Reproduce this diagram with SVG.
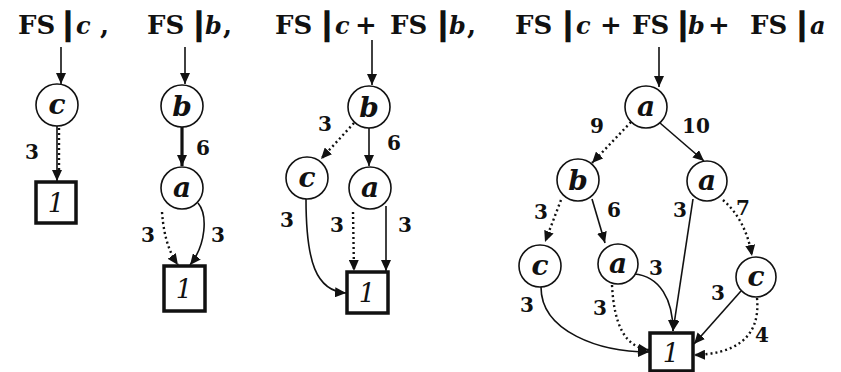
<svg xmlns="http://www.w3.org/2000/svg" width="841" height="372" viewBox="0 0 841 372">
<style>
.t{font-family:"DejaVu Serif","Liberation Serif",serif;font-weight:bold;font-size:26px;fill:#111}
.v{font-style:italic;font-size:24px}
.m{text-anchor:middle}
.bar{font-family:"DejaVu Sans","Liberation Sans",sans-serif;font-weight:bold;font-size:30px;fill:#111;stroke:#111;stroke-width:1.6;text-anchor:middle}
.n circle{fill:#fff;stroke:#111;stroke-width:1.6}
.n rect{fill:#fff;stroke:#111;stroke-width:3.5}
.nl{font-family:"DejaVu Serif","Liberation Serif",serif;font-weight:bold;font-style:italic;font-size:28px;fill:#111;text-anchor:middle}
.one{font-family:"DejaVu Serif","Liberation Serif",serif;font-style:italic;font-size:26px;fill:#111;text-anchor:middle}
.el{font-family:"DejaVu Serif","Liberation Serif",serif;font-weight:bold;font-size:20px;fill:#111;text-anchor:middle}
.s{fill:none;stroke:#111;stroke-width:1.6;marker-end:url(#ah)}
.d{fill:none;stroke:#111;stroke-width:2.4;stroke-dasharray:2 3;marker-end:url(#ah)}
.k{fill:none;stroke:#111;stroke-width:3.2;marker-end:url(#ah)}
</style>
<defs>
<marker id="ah" markerUnits="userSpaceOnUse" markerWidth="11" markerHeight="10" refX="11" refY="5" orient="auto">
<path d="M0,0 L11,5 L0,10 z" fill="#111"/>
</marker>
</defs>
<rect width="841" height="372" fill="#fff"/>
<g id="title-1">
<text class="t" x="18" y="34">FS</text><text class="bar" x="68" y="34">|</text><text class="t v" x="76" y="34">c</text><text class="t" x="100" y="34">,</text>
</g>
<g id="title-2">
<text class="t" x="147" y="34">FS</text><text class="bar" x="199" y="34">|</text><text class="t v" x="205" y="34">b</text><text class="t" x="223" y="34">,</text>
</g>
<g id="title-3">
<text class="t" x="275" y="34">FS</text><text class="bar" x="327" y="34">|</text><text class="t v" x="335" y="34">c</text><text class="t m" x="366" y="34">+</text><text class="t" x="390" y="34">FS</text><text class="bar" x="443" y="34">|</text><text class="t v" x="449" y="34">b</text><text class="t" x="467" y="34">,</text>
</g>
<g id="title-4">
<text class="t" x="515" y="34">FS</text><text class="bar" x="568" y="34">|</text><text class="t v" x="576" y="34">c</text><text class="t m" x="611" y="34">+</text><text class="t" x="632" y="34">FS</text><text class="bar" x="683" y="34">|</text><text class="t v" x="688" y="34">b</text><text class="t m" x="719" y="34">+</text><text class="t" x="750" y="34">FS</text><text class="bar" x="802" y="34">|</text><text class="t v" x="810" y="34">a</text>
</g>
<g id="connectors">
<!-- panel 1 -->
<path class="s" d="M61,47 L61,84"/>
<path class="s" d="M57,126 L57,181"/>
<path class="d" d="M59,128 L59,170" style="marker-end:none"/>
<!-- panel 2 -->
<path class="s" d="M185,47 L185,84"/>
<path class="k" d="M182,127 L182,166"/>
<path class="d" d="M162,212 C164,240 171,255 178,265"/>
<path class="s" d="M198,203 C208,215 206,245 190,265"/>
<!-- panel 3 -->
<path class="s" d="M372,40 L372,85"/>
<path class="d" d="M354,123 L321,159"/>
<path class="s" d="M369,128 L369,166"/>
<path class="s" d="M306,199 C306,262 316,291 346,293"/>
<path class="d" d="M353,212 L354,271"/>
<path class="s" d="M386,206 L386,271"/>
<!-- panel 4 -->
<path class="s" d="M659,47 L659,87"/>
<path class="d" d="M631,122 L592,163"/>
<path class="s" d="M660,123 L704,161"/>
<path class="d" d="M561,200 L545,242"/>
<path class="s" d="M592,199 L605,243"/>
<path class="s" d="M693,199 L673,331"/>
<path class="d" d="M723,200 Q746,220 752,256"/>
<path class="s" d="M541,287 C541,332 600,352 649,352"/>
<path class="d" d="M612,285 C614,325 625,347 649,350"/>
<path class="s" d="M634,274 C660,276 673,300 673,331"/>
<path class="s" d="M741,291 L694,344"/>
<path class="d" d="M757,298 C761,340 732,354 694,355"/>
</g>
<g id="edge-labels">
<text class="el" x="32" y="159">3</text>
<text class="el" x="203" y="155">6</text>
<text class="el" x="148" y="242">3</text>
<text class="el" x="218" y="242">3</text>
<text class="el" x="325" y="131">3</text>
<text class="el" x="394" y="150">6</text>
<text class="el" x="287" y="227">3</text>
<text class="el" x="337" y="232">3</text>
<text class="el" x="405" y="232">3</text>
<text class="el" x="597" y="133">9</text>
<text class="el" x="696" y="133">10</text>
<text class="el" x="541" y="219">3</text>
<text class="el" x="614" y="217">6</text>
<text class="el" x="680" y="217">3</text>
<text class="el" x="743" y="215">7</text>
<text class="el" x="656" y="275">3</text>
<text class="el" x="527" y="312">3</text>
<text class="el" x="600" y="315">3</text>
<text class="el" x="718" y="300">3</text>
<text class="el" x="762" y="342">4</text>
</g>
<g id="p1-c" class="n"><circle cx="57" cy="105" r="21"/><text class="nl" x="57" y="114">c</text></g>
<g id="p1-1" class="n"><rect x="36" y="182" width="40" height="41"/><text class="one" x="56" y="212">1</text></g>
<g id="p2-b" class="n"><circle cx="182" cy="106" r="21"/><text class="nl" x="182" y="116">b</text></g>
<g id="p2-a" class="n"><circle cx="182" cy="188" r="21"/><text class="nl" x="182" y="197">a</text></g>
<g id="p2-1" class="n"><rect x="164" y="266" width="41" height="45"/><text class="one" x="184" y="298">1</text></g>
<g id="p3-b" class="n"><circle cx="369" cy="107" r="21"/><text class="nl" x="369" y="117">b</text></g>
<g id="p3-c" class="n"><circle cx="307" cy="178" r="21"/><text class="nl" x="307" y="187">c</text></g>
<g id="p3-a" class="n"><circle cx="370" cy="188" r="21"/><text class="nl" x="370" y="197">a</text></g>
<g id="p3-1" class="n"><rect x="347" y="272" width="41" height="41"/><text class="one" x="367" y="302">1</text></g>
<g id="p4-a" class="n"><circle cx="646" cy="107" r="21"/><text class="nl" x="646" y="116">a</text></g>
<g id="p4-b" class="n"><circle cx="578" cy="180" r="21"/><text class="nl" x="578" y="190">b</text></g>
<g id="p4-a2" class="n"><circle cx="707" cy="181" r="20"/><text class="nl" x="707" y="190">a</text></g>
<g id="p4-c1" class="n"><circle cx="540" cy="266" r="21"/><text class="nl" x="540" y="275">c</text></g>
<g id="p4-a3" class="n"><circle cx="618" cy="264" r="20"/><text class="nl" x="618" y="273">a</text></g>
<g id="p4-c2" class="n"><circle cx="756" cy="277" r="20"/><text class="nl" x="756" y="286">c</text></g>
<g id="p4-1" class="n"><rect x="650" y="333" width="43" height="38"/><text class="one" x="671" y="362">1</text></g>
</svg>
